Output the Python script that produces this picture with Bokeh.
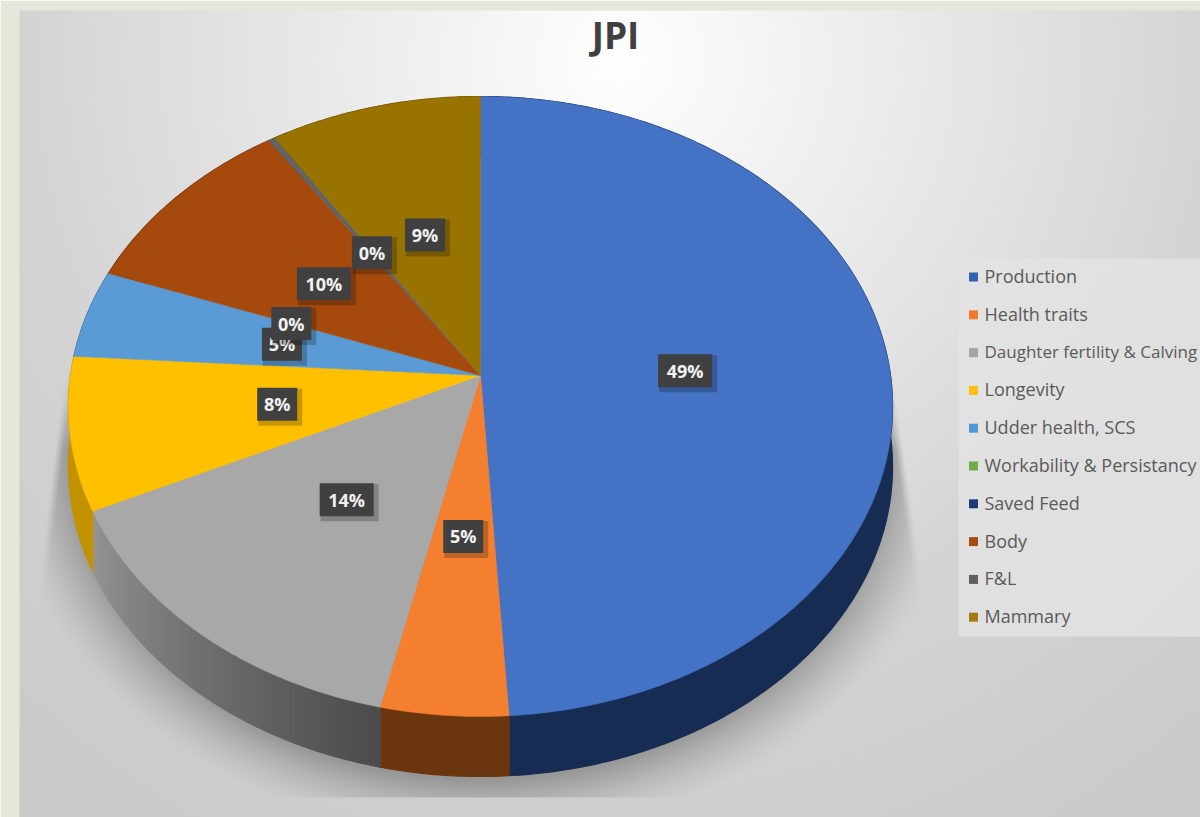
import numpy as np
from bokeh.plotting import figure
from bokeh.core.properties import value
from bokeh.embed import file_html
from bokeh.resources import INLINE

TITLE = "JPI"
categories = ["Production", "Health traits", "Daughter fertility & Calving", "Longevity",
              "Udder health, SCS", "Workability & Persistancy", "Saved Feed", "Body", "F&L", "Mammary"]
# Saved Feed has no data label in the chart, so it is None
shares = [49.0, 4.55, 14.49, 7.96, 4.6, 0.0, None, 9.95, 0.3, 9.15]
top_colors = ["#4472c4", "#f37f2f", "#a8a8a8", "#ffc000", "#5b9bd5", "#70ad47", "#264478", "#a5490d", "#636363", "#997300"]
side_colors = ["#172c52", "#6b3510", "#6e6e6e", "#c39200", "#37608a", "#43682b", "#16294a", "#632c08", "#3b3b3b", "#5c4500"]
legend_colors = ["#2f62b5", "#ee7a32", "#a5a5a5", "#fdbf10", "#4f97d6", "#6fab49", "#1c3a78", "#a94a10", "#5f5f5f", "#a47b12"]

W, H = 1200, 817
CX, CY = 480.0, 375.0    # pie apex on the page
RX, RY, PERSP = 410.0, 306.9, 0.1
DEPTH = 60.0


def py(y):
    return H - np.asarray(y, dtype=float)


def project(theta, r=1.0):
    """Tilted circle: angle clockwise from the top -> page position."""
    u, v = r * np.sin(theta), r * np.cos(theta)
    d = 1 + PERSP * v
    return CX + RX * u / d, CY - RY * v / d


# Background: panel gradient plus the soft shadow under the pie
xx, yy = np.meshgrid(np.arange(W) + 0.5, np.arange(H) + 0.5)
dist = np.hypot(xx - 620, yy - 60)
bg = np.where(dist < 600, 255 - 0.072 * dist, 212 - 0.03 * (dist - 600))
uu = np.hypot((xx - 480) / 432, (yy - 445) / 352)
shade = np.clip((1.12 - uu) / 0.17, 0, 1) ** 1.5
shade *= np.clip((yy - 370) / 80, 0, 1)
x_left = 68 - (yy - 340) * (28 / 230)
x_right = 893 + (yy - 380) * (27 / 190)
shade *= np.clip((xx - x_left) / 8, 0, 1) * np.clip((x_right - xx) / 8, 0, 1)
shade *= (yy < 797)
bg = bg * (1 - 0.27 * shade)
rgba = np.zeros((H, W, 4), dtype=np.uint8)
rgba[..., 0] = rgba[..., 1] = rgba[..., 2] = bg.clip(0, 255)
rgba[..., 3] = 255
panel = (xx >= 19) & (yy >= 10)
rgba[~panel] = (227, 232, 218, 255)
rgba = rgba[::-1]
img = rgba[..., 0].astype(np.uint32) | (rgba[..., 1].astype(np.uint32) << 8) | \
    (rgba[..., 2].astype(np.uint32) << 16) | (rgba[..., 3].astype(np.uint32) << 24)

p = figure(width=W, height=H, x_range=(0, W), y_range=(0, H),
           output_backend="svg", toolbar_location=None, min_border=0)
p.axis.visible = False
p.grid.visible = False
p.outline_line_color = None
p.image_rgba(image=[img], x=0, y=0, dw=W, dh=H)

# Slices
vals = [s or 0.0 for s in shares]
total = sum(vals)
cum = np.cumsum([0.0] + vals) / total * 2 * np.pi
wall_xs, wall_ys, wall_cs = [], [], []
face_xs, face_ys, face_cs = [], [], []
for i, s in enumerate(vals):
    if s <= 0:
        continue
    t = np.linspace(cum[i], cum[i + 1], max(3, int(s * 6)))
    ax, ay = project(t)
    face_xs.append(np.r_[CX, ax].tolist())
    face_ys.append(py(np.r_[CY, ay]).tolist())
    face_cs.append(top_colors[i])
    if categories[i].startswith("Daughter"):
        # the grey wall darkens toward the front of the pie
        for k in range(len(t) - 1):
            f = k / (len(t) - 2)
            g = int(76 + f * 72)
            xa, ya = project(t[k:k + 2])
            wall_xs.append(np.r_[xa, xa[::-1]].tolist())
            wall_ys.append(py(np.r_[ya, ya[::-1] + DEPTH]).tolist())
            wall_cs.append(f"#{g:02x}{g:02x}{g:02x}")
    else:
        wall_xs.append(np.r_[ax, ax[::-1]].tolist())
        wall_ys.append(py(np.r_[ay, ay[::-1] + DEPTH]).tolist())
        wall_cs.append(side_colors[i])
p.patches(wall_xs, wall_ys, fill_color=wall_cs, line_color=wall_cs, line_width=1.2)
p.patches(face_xs, face_ys, fill_color=face_cs, line_color=face_cs, line_width=0.5)

# Data labels sit at half radius of each slice
for i, s in enumerate(shares):
    if s is None:
        continue
    x, y = project((cum[i] + cum[i + 1]) / 2, 0.5)
    x, y = float(x), float(py(y))
    txt = f"{round(s * 100 / total)}%"
    w = 54 if len(txt) > 2 else 40
    p.rect(x + 3, y - 3, width=w + 4, height=37, fill_color="#000000", fill_alpha=0.22, line_color=None)
    p.rect(x, y, width=w, height=33, fill_color="#404040", line_color=None)
    p.text([x], [y], text=[txt], text_font=value("Open Sans"), text_font_size="18px",
           text_font_style="bold", text_color="#f2f2f2", text_align="center", text_baseline="middle")

# Title
p.text([615], py([34]).tolist(), text=[TITLE], text_font=value("Open Sans"), text_font_size="37px",
       text_font_style="bold", text_color="#404040", text_align="center", text_baseline="middle")

# Legend
p.quad(left=[958], right=[W], top=py([258]).tolist(), bottom=py([636]).tolist(),
       fill_color="#e3e3e3", fill_alpha=0.8, line_color=None)
rows = 275.5 + 37.8 * np.arange(len(categories))
p.rect(x=[973] * len(categories), y=py(rows + 1).tolist(), width=9, height=9,
       fill_color=legend_colors, line_color=None)
# the longest entry is set a little smaller so that it stays inside the page
sizes = ["17px" if len(c) > 25 else "18px" for c in categories]
p.text(x=[984] * len(categories), y=py(rows).tolist(), text=categories, text_font=value("Open Sans"),
       text_font_size=sizes, text_color="#5a5a5a", text_align="left", text_baseline="middle")

open("out.html", "w").write(file_html(p, INLINE))
